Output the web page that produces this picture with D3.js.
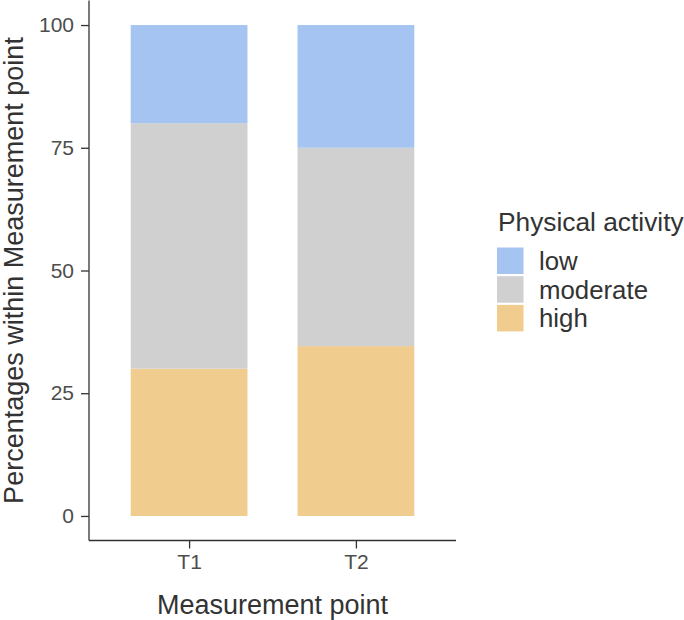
<!DOCTYPE html>
<html><head><meta charset="utf-8">
<script src="https://cdn.jsdelivr.net/npm/d3@7"></script>
<style>body{margin:0;background:#fff}svg{display:block}</style>
</head><body>
<svg id="c" width="684" height="620"></svg>
<script>
const categories = ["T1", "T2"];
const levels = ["high", "moderate", "low"];
const legendOrder = ["low", "moderate", "high"];
const high = [30, 34.6];
const moderate = [50, 40.4];
const low = [20, 25];
const yTicks = [0, 25, 50, 75, 100];
const colors = {low: "#a5c4f2", moderate: "#d0d0d0", high: "#f0cc8e"};

const rows = categories.map((c, i) => ({cat: c, high: high[i], moderate: moderate[i], low: low[i]}));
const stack = d3.stack().keys(levels)(rows);

const svg = d3.select("#c");
const font = "Liberation Sans, Arial, sans-serif";
const m = {l: 89, r: 456, t: 0.5, b: 540.5};

const step = (m.r - m.l) / 2.2;
const xc = d3.scalePoint().domain(categories).range([m.l + 0.6 * step, m.r - 0.6 * step]);
const bw = 0.7 * step;
const y = d3.scaleLinear().domain([-5, 105]).range([m.b, m.t]);

svg.append("g").selectAll("g").data(stack).join("g")
  .attr("fill", d => colors[d.key])
  .selectAll("rect").data(d => d).join("rect")
  .attr("x", d => xc(d.data.cat) - bw / 2)
  .attr("width", bw)
  .attr("y", d => y(d[1]))
  .attr("height", d => y(d[0]) - y(d[1]));

const yAxis = svg.append("g").attr("transform", `translate(${m.l},0)`)
  .call(d3.axisLeft(y).tickValues(yTicks).tickSize(8).tickPadding(7).tickSizeOuter(0));
const xAxis = svg.append("g").attr("transform", `translate(0,${m.b})`)
  .call(d3.axisBottom(xc).tickSize(8).tickPadding(6).tickSizeOuter(0));
[yAxis, xAxis].forEach(a => {
  a.select(".domain").attr("stroke", "#333").attr("stroke-width", 1.3);
  a.selectAll(".tick line").attr("stroke", "#333").attr("stroke-width", 1.3);
  a.selectAll(".tick text").attr("fill", "#4d4d4d").style("font-family", font).style("font-size", "21px");
});
xAxis.select(".domain").attr("d", `M${m.l},0H${m.r}`);
yAxis.select(".domain").attr("d", `M0,${m.t}V${m.b}`);

svg.append("text").attr("x", (m.l + m.r) / 2).attr("y", 614).attr("text-anchor", "middle")
  .style("font-family", font).style("font-size", "27px").attr("fill", "#333").text("Measurement point");
svg.append("text").attr("transform", `translate(23,${(m.t + m.b) / 2}) rotate(-90)`).attr("text-anchor", "middle")
  .style("font-family", font).style("font-size", "27px").attr("fill", "#333").text("Percentages within Measurement point");

const lg = svg.append("g");
lg.append("text").attr("x", 498).attr("y", 231).style("font-family", font).style("font-size", "26.3px")
  .attr("fill", "#333").text("Physical activity");
legendOrder.forEach((k, i) => {
  const yy = 247.5 + i * 28.7;
  lg.append("rect").attr("x", 497).attr("y", yy).attr("width", 26.5).attr("height", 26.5).attr("fill", colors[k]);
  lg.append("text").attr("x", 539).attr("y", yy + 22.5).style("font-family", font).style("font-size", "25.8px")
    .attr("fill", "#333").text(k);
});
</script>
</body></html>
